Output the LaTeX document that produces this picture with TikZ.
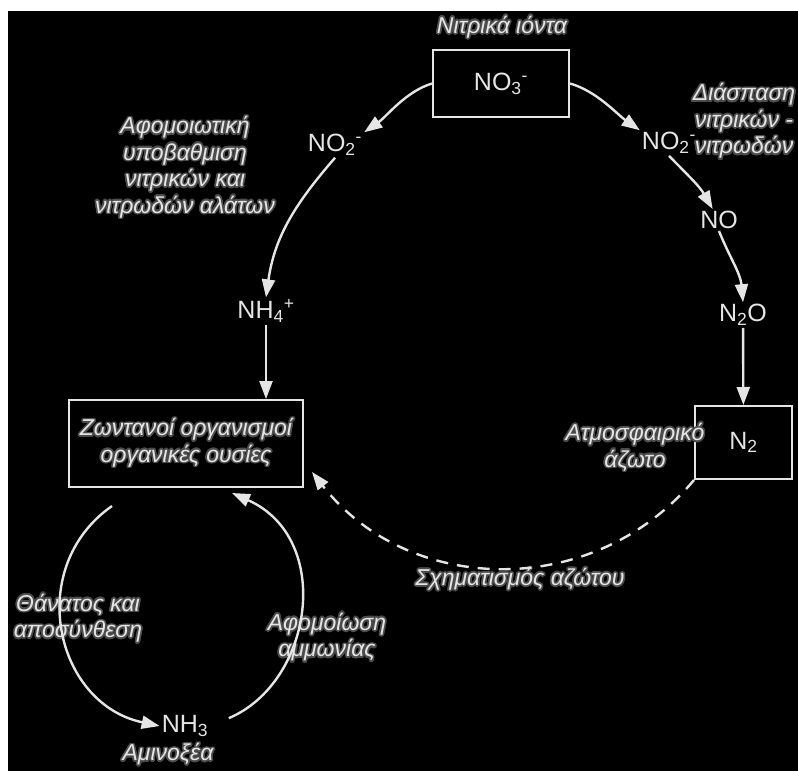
\documentclass[tikz,border=0pt]{standalone}
\usepackage{fontspec}
\setmainfont{Liberation Sans}
\usepackage{contour}
\usetikzlibrary{arrows.meta}
\definecolor{chalk}{gray}{0.9}
\definecolor{halo}{gray}{0.3}
\contourlength{1.6pt}
\contournumber{16}
\newcommand{\glw}[1]{\contour{halo}{#1}}

\begin{document}
\begin{tikzpicture}[
  arr/.style={-{Triangle[length=18pt,width=13pt]},line width=2.4pt,draw=chalk},
  dasharr/.style={arr,dash pattern=on 12pt off 9pt},
  chem/.style={text=chalk,font=\fontsize{25}{30}\selectfont,inner sep=2pt},
  lbl/.style={text=chalk,font=\fontsize{23}{26.5}\selectfont\itshape,align=center,inner sep=0pt},
  box/.style={draw=chalk,line width=2pt}]
  \useasboundingbox (0pt, 0pt) rectangle (798pt, -771pt);
  \fill[white] (0pt, 0pt) rectangle (798pt, -771pt);
  \fill[black] (8pt, -11pt) rectangle (798pt, -771pt);
  \draw (501.0pt, -83.5pt)node[chem,box,minimum width=136pt,minimum height=67pt](no3){NO\textsubscript{3}\textsuperscript{-}};
  \draw (335.0pt, -145.0pt)node[chem](no2a){NO\textsubscript{2}\textsuperscript{-}};
  \draw (669.0pt, -143.0pt)node[chem](no2b){NO\textsubscript{2}\textsuperscript{-}};
  \draw (719.0pt, -220.0pt)node[chem](no){NO};
  \draw (743.0pt, -315.0pt)node[chem](n2o){N\textsubscript{2}O};
  \draw (743.5pt, -442.5pt)node[chem,box,minimum width=97pt,minimum height=73pt](n2){N\textsubscript{2}};
  \draw (266.0pt, -311.0pt)node[chem](nh4){NH\textsubscript{4}\textsuperscript{+}};
  \draw (186.0pt, -443.5pt)node[lbl,box,minimum width=234pt,minimum height=87pt](life){\glw{Ζωντανοί οργανισμοί}\\\glw{οργανικές ουσίες}};
  \draw (185.0pt, -726.0pt)node[chem](nh3){NH\textsubscript{3}};
  \draw (502.0pt, -28.0pt)node[lbl](nitr){\glw{Νιτρικά ιόντα}};
  \draw (744.0pt, -122.0pt)node[lbl](denitr){\glw{Διάσπαση}\\\glw{νιτρικών -}\\\glw{νιτρωδών}};
  \draw (185.0pt, -168.0pt)node[lbl](assim){\glw{Αφομοιωτική}\\\glw{υποβαθμιση}\\\glw{νιτρικών και}\\\glw{νιτρωδών αλάτων}};
  \draw (635.0pt, -448.0pt)node[lbl](atm){\glw{Ατμοσφαιρικό}\\\glw{άζωτο}};
  \draw (520.0pt, -580.0pt)node[lbl](fix){\glw{Σχηματισμός αζώτου}};
  \draw (78.0pt, -619.0pt)node[lbl](death){\glw{Θάνατος και}\\\glw{αποσύνθεση}};
  \draw (327.0pt, -638.0pt)node[lbl](amm){\glw{Αφομοίωση}\\\glw{αμμωνίας}};
  \draw (168.0pt, -755.0pt)node[lbl](amino){\glw{Αμινοξέα}};
  \draw[arr] (no3.west) to[out=197,in=35,looseness=.85] (no2a.north east);
  \draw[arr] (no3.east) to[out=-16,in=145,looseness=.85] (no2b.north west);
  \draw[arr] (no2b.south) to[out=-46,in=120] (no.120);
  \draw[arr] (no.south) to[out=-68,in=95] (n2o.north);
  \draw[arr] (n2o) -- (n2);
  \draw[arr] (no2a.south) to[out=229,in=82] (nh4.north);
  \draw[arr] (nh4.south) -- (nh4.south |- life.north);
  \draw[dasharr] (n2.south west) to[out=230,in=308,looseness=1.05] ([xshift=8pt,yshift=16pt]life.south east);
  \draw[arr] ([xshift=-74pt,yshift=-18pt]life.south) to[out=215,in=168,looseness=1.22] (nh3.west);
  \draw[arr,shorten <=20pt] (nh3.east) to[out=23,in=-24,looseness=1.22] ([xshift=46pt,yshift=-5pt]life.south);
\end{tikzpicture}
\end{document}
